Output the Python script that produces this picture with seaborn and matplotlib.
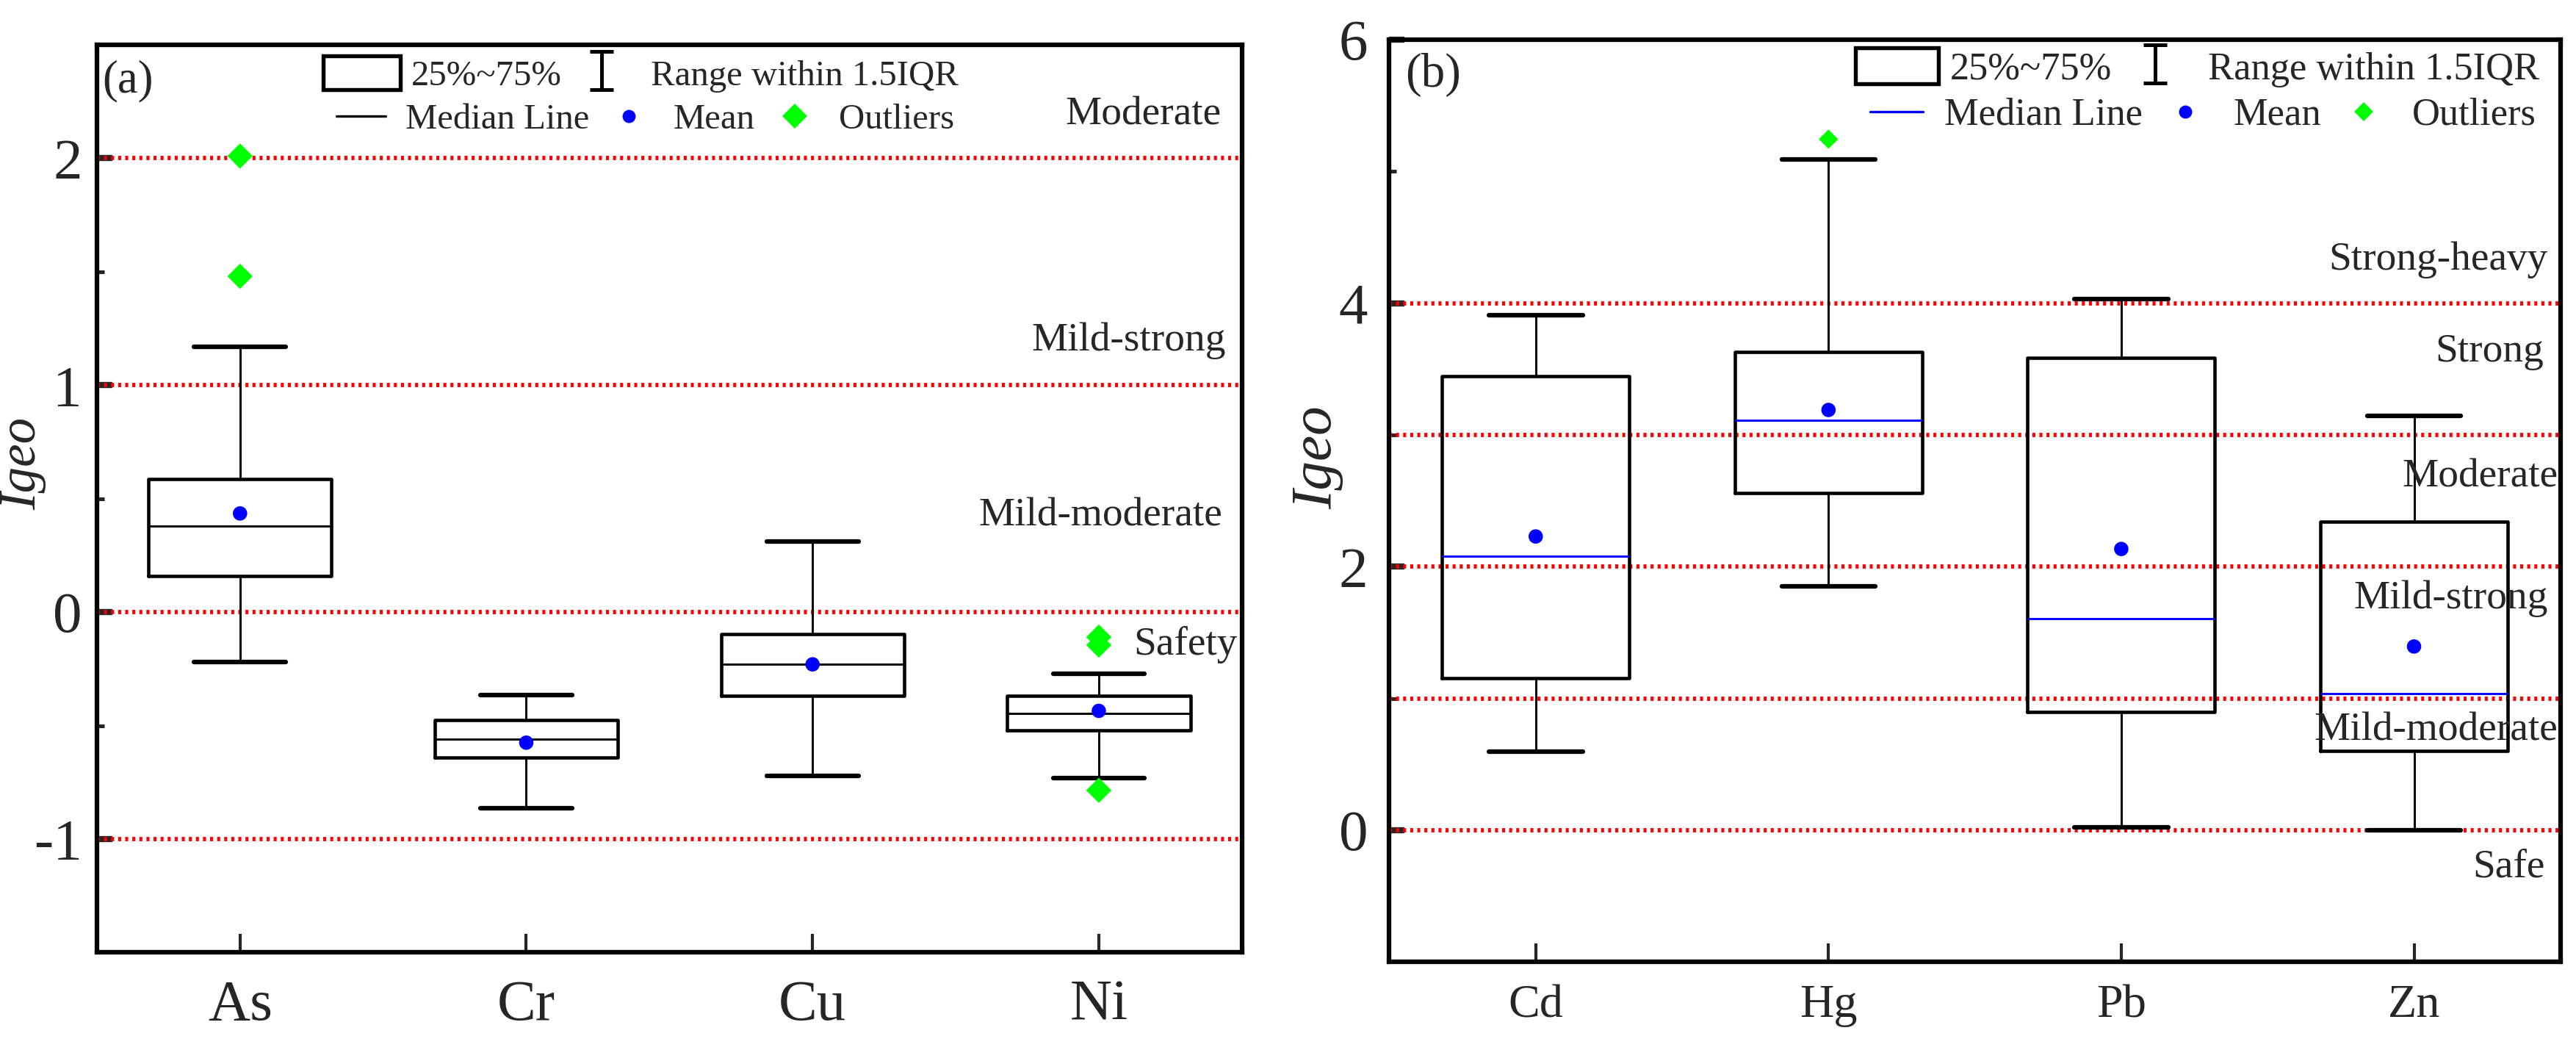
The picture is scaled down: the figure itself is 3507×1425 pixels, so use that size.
import numpy as np
import pandas as pd
import seaborn as sns
import matplotlib.pyplot as plt
from matplotlib.lines import Line2D
from matplotlib.patches import Rectangle
from matplotlib.path import Path
from matplotlib.ticker import MultipleLocator

# panel (a) - Igeo box statistics
elements_a = ["As", "Cr", "Cu", "Ni"]
q1_a = [0.16, -0.64, -0.37, -0.52]
med_a = [0.38, -0.56, -0.23, -0.445]
q3_a = [0.585, -0.475, -0.095, -0.37]
wlo_a = [-0.22, -0.865, -0.72, -0.73]
whi_a = [1.17, -0.365, 0.31, -0.27]
mean_a = [0.435, -0.575, -0.23, -0.435]
out_elem_a = ["As", "As", "Ni", "Ni", "Ni"]
out_val_a = [2.01, 1.48, -0.11, -0.145, -0.785]
levels_a = [-1, 0, 1, 2]
grades_a = ["Safety", "Mild-moderate", "Mild-strong", "Moderate"]
grade_y_a = [-0.145, 0.425, 1.195, 2.19]
grade_x_a = [0.996, 0.983, 0.986, 0.982]

# panel (b)
elements_b = ["Cd", "Hg", "Pb", "Zn"]
q1_b = [1.155, 2.56, 0.90, 0.605]
med_b = [2.08, 3.11, 1.605, 1.035]
q3_b = [3.445, 3.63, 3.585, 2.34]
wlo_b = [0.595, 1.85, 0.025, 0.0]
whi_b = [3.91, 5.09, 4.03, 3.145]
mean_b = [2.23, 3.19, 2.135, 1.395]
out_elem_b = ["Hg"]
out_val_b = [5.245]
levels_b = [0, 1, 2, 3, 4]
grades_b = ["Safe", "Mild-moderate", "Mild-strong", "Moderate", "Strong", "Strong-heavy"]
grade_y_b = [-0.28, 0.76, 1.76, 2.68, 3.63, 4.33]
grade_x_b = [0.987, 0.998, 0.989, 0.998, 0.986, 0.989]

sns.set_theme(style="ticks")
plt.rcParams["font.family"] = ["Liberation Serif", "DejaVu Serif"]
plt.rcParams["axes.linewidth"] = 1.5
plt.rcParams["axes.unicode_minus"] = False

# "I" shaped marker for the whisker legend entry
ibar = Path([(-0.6, 1), (0.6, 1), (0, 1), (0, -1), (-0.6, -1), (0.6, -1)],
            [Path.MOVETO, Path.LINETO, Path.MOVETO, Path.LINETO, Path.MOVETO, Path.LINETO])


def panel(ax, elements, q1, med, q3, wlo, whi, mean, out_elem, out_val,
          levels, grades, grade_y, grade_x, med_color, diamond_s, xfs, yfs):
    pos = np.arange(len(elements))
    stats = [dict(med=m, q1=a, q3=b, whislo=lo, whishi=hi, fliers=[], label=e)
             for e, a, m, b, lo, hi in zip(elements, q1, med, q3, wlo, whi)]
    for lv in levels:
        ax.axhline(lv, color="red", lw=1.4, ls=(0, (0.7, 0.95)), zorder=1)
    ax.bxp(stats, positions=pos, widths=0.64, capwidths=0.32, showfliers=False,
           manage_ticks=False,
           boxprops=dict(color="black", lw=1.1),
           whiskerprops=dict(color="black", lw=0.7),
           capprops=dict(color="black", lw=1.5),
           medianprops=dict(color=med_color, lw=0.7))

    dm = pd.DataFrame({"pos": pos, "mean": mean})
    sns.scatterplot(data=dm, x="pos", y="mean", ax=ax, color="blue", s=22,
                    edgecolor="none", zorder=5, legend=False)
    idx = {e: i for i, e in enumerate(elements)}
    do = pd.DataFrame({"pos": [idx[e] for e in out_elem], "val": out_val})
    sns.scatterplot(data=do, x="pos", y="val", ax=ax, color="#00ff00", marker="D",
                    s=diamond_s, edgecolor="none", zorder=5, legend=False)

    for g, gy, gx in zip(grades, grade_y, grade_x):
        ax.text(gx, gy, g, transform=ax.get_yaxis_transform(), ha="right",
                va="center", fontsize=13.3)

    ax.set_xlim(-0.5, 3.5)
    ax.set_xticks(pos, elements)
    ax.set_xlabel("")
    ax.set_ylabel("Igeo", fontstyle="italic")
    ax.yaxis.set_minor_locator(MultipleLocator(0.5 if len(levels) == 4 else 1))
    ax.tick_params(axis="x", direction="in", length=6, width=1, labelsize=xfs,
                   top=False)
    ax.tick_params(axis="y", which="major", direction="in", length=5, width=2,
                   labelsize=yfs, right=False)
    ax.tick_params(axis="y", which="minor", direction="in", length=2.5, width=1.2,
                   right=False)
    for sp in ax.spines.values():
        sp.set_linewidth(1.5)
        sp.set_color("black")


fig = plt.figure(figsize=(11.693, 4.75), dpi=300)
ax1 = fig.add_axes([0.0376, 0.0902, 0.4444, 0.867])
ax2 = fig.add_axes([0.5392, 0.0811, 0.4545, 0.881])

panel(ax1, elements_a, q1_a, med_a, q3_a, wlo_a, whi_a, mean_a, out_elem_a, out_val_a,
      levels_a, grades_a, grade_y_a, grade_x_a, "black", 34, 19, 19)
ax1.set_ylim(-1.5, 2.5)
ax1.set_yticks([-1, 0, 1, 2])
ax1.tick_params(axis="y", pad=4.8)
ax1.tick_params(axis="x", pad=8.8)
ax1.yaxis.label.set_size(17)
ax1.yaxis.set_label_coords(-0.044, 0.539)
ax1.text(0.005, 0.96, "(a)", transform=ax1.transAxes, fontsize=15, va="center")

panel(ax2, elements_b, q1_b, med_b, q3_b, wlo_b, whi_b, mean_b, out_elem_b, out_val_b,
      levels_b, grades_b, grade_y_b, grade_x_b, "blue", 20, 15.4, 19)
ax2.set_ylim(-1, 6)
ax2.set_yticks([0, 2, 4, 6])
ax2.tick_params(axis="y", pad=7)
ax2.tick_params(axis="x", pad=7.4)
ax2.yaxis.label.set_size(19)
ax2.yaxis.set_label_coords(-0.039, 0.547)
ax2.text(0.0135, 0.962, "(b)", transform=ax2.transAxes, fontsize=15.6, va="center")


def key(ax, med_color, fs, x1, y1, x2, y2, dms):
    box = Rectangle((0, 0), 1, 1, facecolor="white", edgecolor="black", lw=1.3)
    rng = Line2D([], [], ls="None", marker=ibar, ms=12.7, mew=1.2, color="black")
    leg1 = ax.legend([box, rng], ["25%~75%", "Range within 1.5IQR"], ncol=2,
                     loc="center left", bbox_to_anchor=(x1, y1), frameon=False,
                     fontsize=fs, handlelength=2.15, handleheight=1.05,
                     handletextpad=0.3, columnspacing=0.05, borderpad=0,
                     borderaxespad=0)
    ax.add_artist(leg1)
    ml = Line2D([], [], color=med_color, lw=0.8)
    mn = Line2D([], [], ls="None", marker="o", ms=4.3, color="blue", mec="none")
    ol = Line2D([], [], ls="None", marker="D", ms=dms, color="#00ff00", mec="none")
    ax.legend([ml, mn, ol], ["Median Line", "Mean", "Outliers"], ncol=3,
              loc="center left", bbox_to_anchor=(x2, y2), frameon=False,
              fontsize=fs, handlelength=1.38, handletextpad=0.55,
              columnspacing=0.42, borderpad=0, borderaxespad=0)


key(ax1, "black", 11.7, 0.1976, 0.9676, 0.209, 0.9175, 5.8)
key(ax2, "blue", 12.6, 0.398, 0.9697, 0.4104, 0.918, 4.4)

fig.savefig("out.png", dpi=300, facecolor="white")
